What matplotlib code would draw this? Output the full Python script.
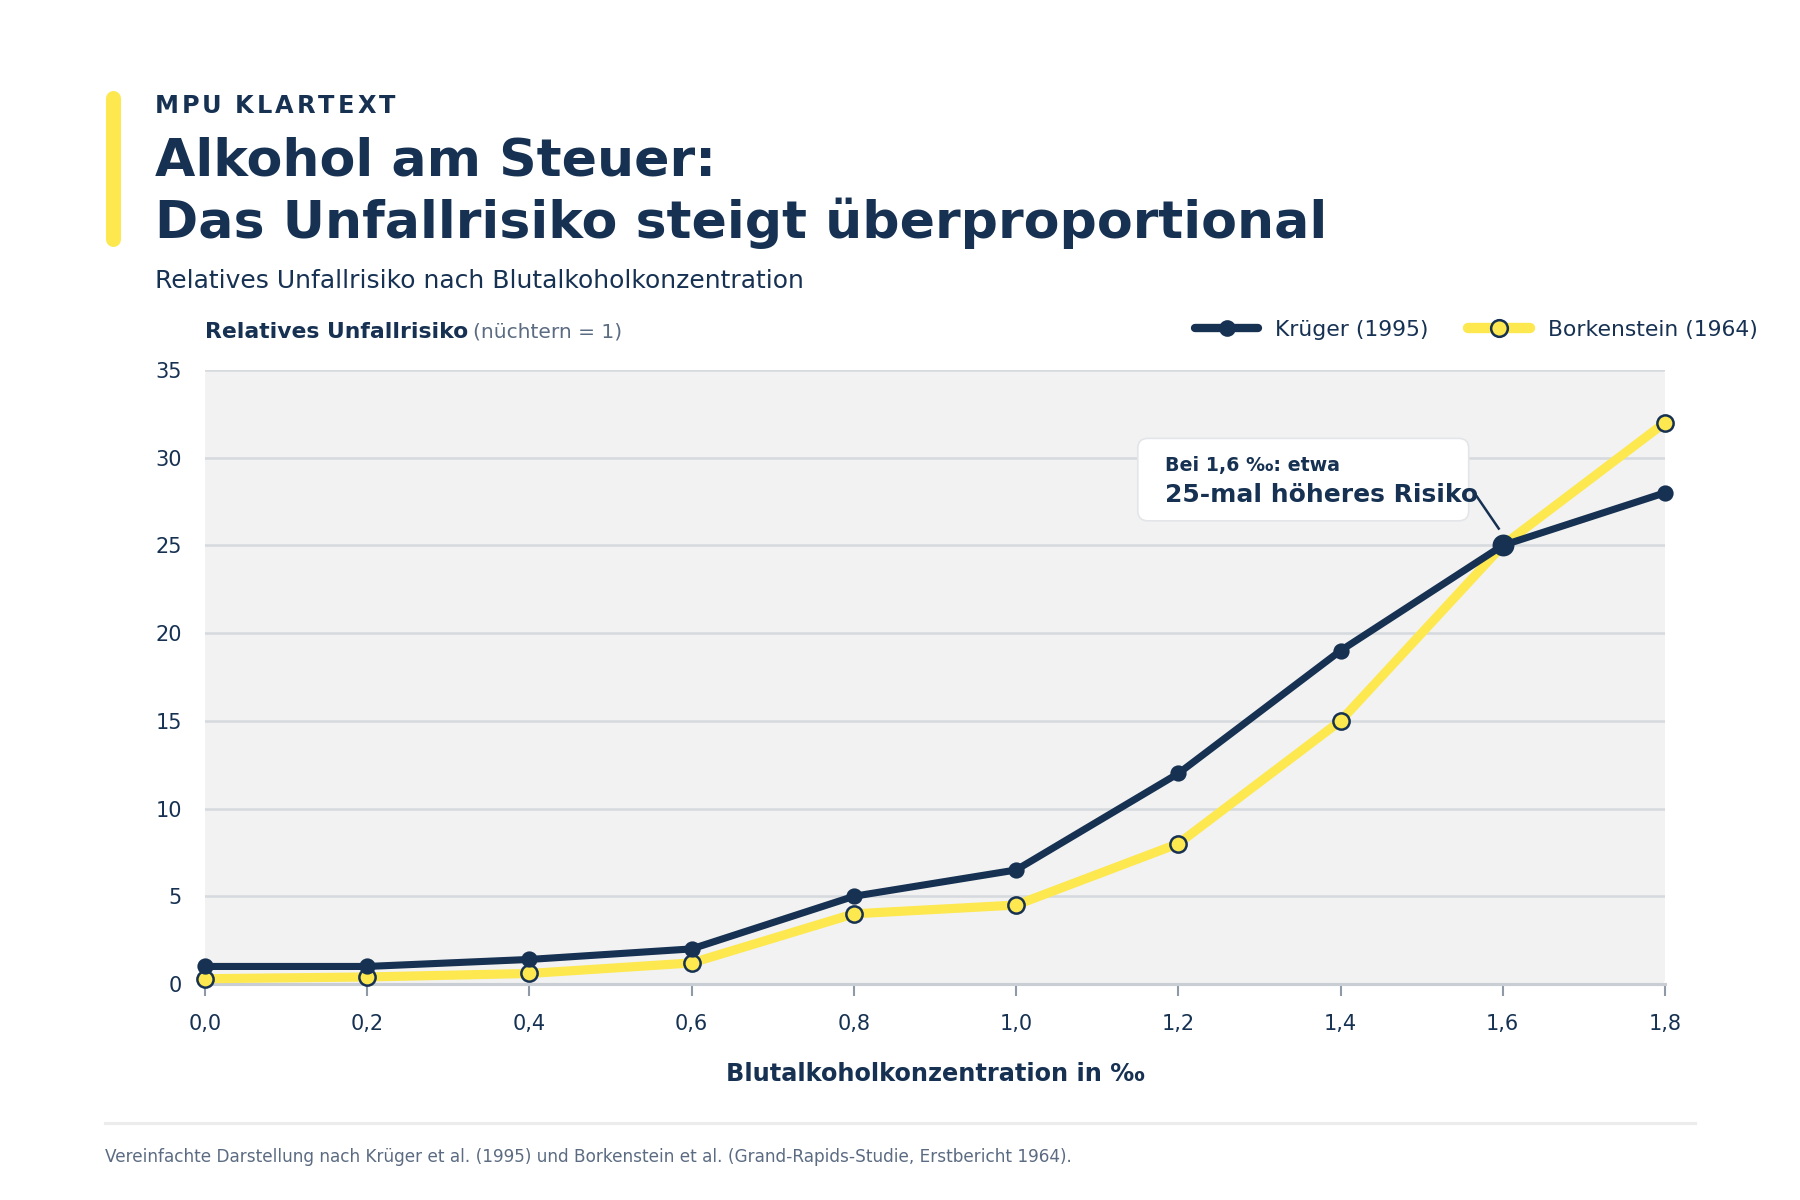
import numpy as np
import matplotlib
matplotlib.use("Agg")
import matplotlib.pyplot as plt
from matplotlib.lines import Line2D
from matplotlib.patches import FancyBboxPatch

# Daten
bak = [0.0, 0.2, 0.4, 0.6, 0.8, 1.0, 1.2, 1.4, 1.6, 1.8]
krueger = [1.0, 1.0, 1.4, 2.0, 5.0, 6.5, 12.0, 19.0, 25.0, 28.0]
borkenstein = [0.3, 0.4, 0.6, 1.2, 4.0, 4.5, 8.0, 15.0, 25.0, 32.0]
x_ticks = [0.0, 0.2, 0.4, 0.6, 0.8, 1.0, 1.2, 1.4, 1.6, 1.8]
x_labels = ["0,0", "0,2", "0,4", "0,6", "0,8", "1,0", "1,2", "1,4", "1,6", "1,8"]
y_ticks = [0, 5, 10, 15, 20, 25, 30, 35]

NAVY = "#163152"
YELLOW = "#fde84f"
GRAY = "#5b6b82"
GRID = "#d6d9de"

plt.rcParams["font.family"] = ["DejaVu Sans"]

fig = plt.figure(figsize=(12, 8), dpi=150)
ax = fig.add_axes([0.1139, 0.1800, 0.8111, 0.5117])
ax.set_facecolor("none")

# Hintergrund mit leicht abgerundeten Ecken
fig.canvas.draw()
bb = ax.get_window_extent()
bg = FancyBboxPatch((0, 0), 1, 1, transform=ax.transAxes,
                    boxstyle="round,pad=0,rounding_size=%f" % (5 / bb.width),
                    mutation_aspect=bb.width / bb.height,
                    fc="#f2f2f2", ec="none", zorder=0)
ax.add_patch(bg)

ax.plot(bak, borkenstein, color=YELLOW, lw=4.4, marker="o", ms=7.8,
        mfc=YELLOW, mec=NAVY, mew=1.2, clip_on=False, zorder=3,
        solid_capstyle="round")
ax.plot(bak, krueger, color=NAVY, lw=3.4, marker="o", ms=6.8,
        mfc=NAVY, mec=NAVY, clip_on=False, zorder=4)
# hervorgehobener Punkt bei 1,6 ‰
i16 = bak.index(1.6)
ax.plot([bak[i16]], [krueger[i16]], marker="o", ms=9.5, color=NAVY,
        clip_on=False, zorder=5)

ax.set_xlim(0, 1.8)
ax.set_ylim(0, 35)
ax.set_xticks(x_ticks)
ax.set_xticklabels(x_labels)
ax.set_yticks(y_ticks)
ax.tick_params(axis="x", length=5.8, width=1, color="#8f9aa8", pad=8.5,
               labelsize=10, labelcolor=NAVY)
ax.tick_params(axis="y", length=0, pad=11, labelsize=10, labelcolor=NAVY)
ax.grid(axis="y", color=GRID, lw=1.2, zorder=1)
ax.set_axisbelow(True)
for s in ["left", "right", "top"]:
    ax.spines[s].set_visible(False)
ax.spines["bottom"].set_color("#c9ced5")
ax.spines["bottom"].set_linewidth(1.5)

# Anmerkungsbox
px_x = 1.8 / bb.width
px_y = 35 / bb.height
box = FancyBboxPatch((1.150, 26.4), 0.408, 4.7,
                     boxstyle="round,pad=0,rounding_size=%f" % (10 * px_x),
                     mutation_aspect=px_y / px_x,
                     fc="white", ec="#e3e5e8", lw=0.8, zorder=6)
ax.add_patch(box)
ax.text(1.183, 29.25, "Bei 1,6 ‰: etwa", fontsize=9.1, fontweight="bold",
        color=NAVY, zorder=7)
ax.text(1.183, 27.45, "25-mal höheres Risiko", fontsize=12,
        fontweight="bold", color=NAVY, zorder=7)
ax.plot([1.564, 1.595], [28.06, 25.96], color=NAVY, lw=1.2, zorder=7)

# Kopfbereich
fig.add_artist(Line2D([0.0625, 0.0625], [0.918, 0.801], lw=7.2,
                      color=YELLOW, solid_capstyle="round",
                      transform=fig.transFigure))

renderer = fig.canvas.get_renderer()
x0 = 0.0859
for ch in "MPU KLARTEXT":
    t = fig.text(x0, 0.906, ch, fontsize=11.5, fontweight="bold",
                 color=NAVY, va="baseline")
    w = t.get_window_extent(renderer).width
    if ch == " ":
        w = 0.30 * 11.5 * 150 / 72
    x0 += (w + 3.0) / fig.bbox.width

fig.text(0.0859, 0.854, "Alkohol am Steuer:", fontsize=25,
         fontweight="bold", color=NAVY, va="baseline")
fig.text(0.0859, 0.802, "Das Unfallrisiko steigt überproportional",
         fontsize=25, fontweight="bold", color=NAVY, va="baseline")
fig.text(0.0859, 0.7596, "Relatives Unfallrisiko nach Blutalkoholkonzentration",
         fontsize=12, color=NAVY, va="baseline")

t1 = fig.text(0.1139, 0.7185, "Relatives Unfallrisiko", fontsize=10.5,
              fontweight="bold", color=NAVY, va="baseline")
w1 = t1.get_window_extent(renderer).width
fig.text(0.1139 + (w1 + 5) / fig.bbox.width, 0.7185, "(nüchtern = 1)",
         fontsize=9.7, color=GRAY, va="baseline")

handles = [
    Line2D([], [], color=NAVY, lw=4, marker="o", ms=7, mfc=NAVY, mec=NAVY,
           solid_capstyle="round"),
    Line2D([], [], color=YELLOW, lw=5, marker="o", ms=8, mfc=YELLOW,
           mec=NAVY, mew=1.2, solid_capstyle="round"),
]
fig.legend(handles, ["Krüger (1995)", "Borkenstein (1964)"], loc="center right",
           bbox_to_anchor=(0.9875, 0.725), ncol=2, frameon=False, fontsize=10.5,
           handlelength=2.85, handletextpad=0.8, columnspacing=1.8,
           labelcolor=NAVY)

fig.text(0.5194, 0.099, "Blutalkoholkonzentration in ‰", fontsize=11.5,
         fontweight="bold", color=NAVY, ha="center", va="baseline")

fig.add_artist(Line2D([0.0583, 0.9415], [0.0645, 0.0645], lw=1.5,
                      color="#ececec", transform=fig.transFigure))
fig.text(0.0583, 0.032, "Vereinfachte Darstellung nach Krüger et al. (1995) und "
         "Borkenstein et al. (Grand-Rapids-Studie, Erstbericht 1964).",
         fontsize=8.1, color=GRAY, va="baseline")

fig.savefig("out.png", dpi=150, facecolor="white")
